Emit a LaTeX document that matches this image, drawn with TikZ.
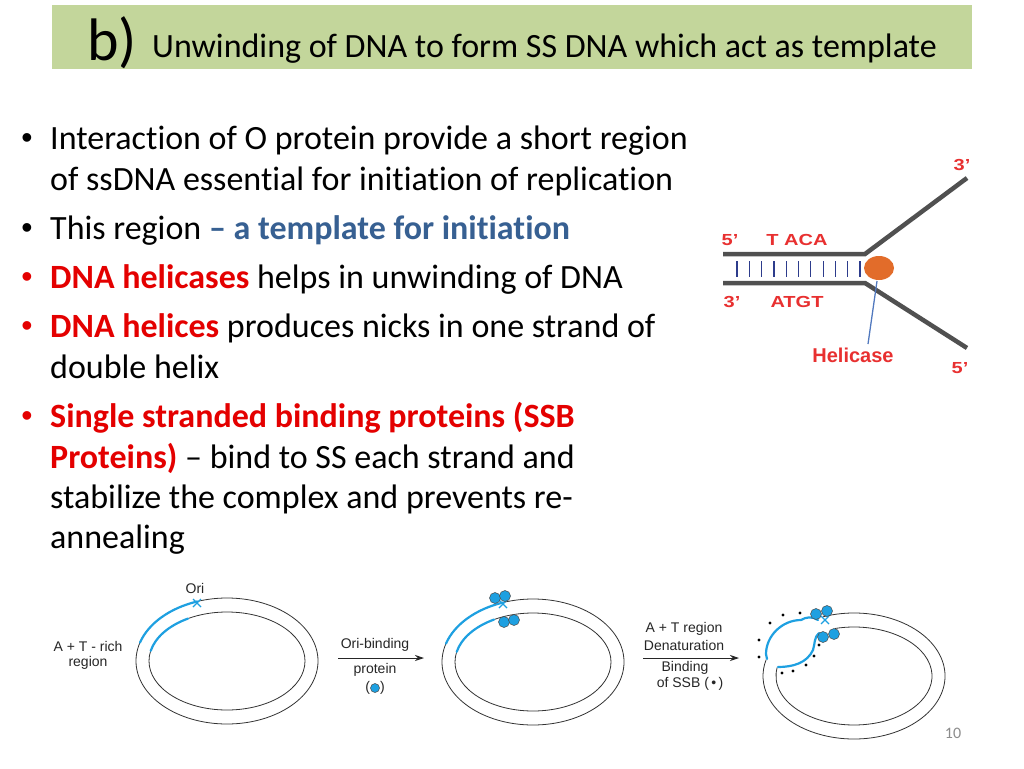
\documentclass[tikz,border=0pt]{standalone}
\usepackage{fontspec}
\setmainfont[Ligatures={NoCommon}]{Carlito}
\newfontfamily\arialf{Liberation Sans}
\usetikzlibrary{arrows.meta,calc,shapes.geometric}
\definecolor{titlegreen}{RGB}{195,214,155}
\definecolor{tblue}{RGB}{55,96,146}
\definecolor{tred}{RGB}{228,0,0}
\definecolor{lred}{RGB}{232,48,48}
\definecolor{strandgray}{RGB}{80,80,80}
\definecolor{rungblue}{RGB}{45,60,140}
\definecolor{helorange}{RGB}{226,108,42}
\definecolor{ptrblue}{RGB}{80,120,190}
\definecolor{dnablue}{RGB}{30,160,225}
\definecolor{pgray}{RGB}{140,140,140}
\newcommand{\wideit}[1]{\scalebox{1.25}[1]{#1}}
\begin{document}
\begin{tikzpicture}[x=1pt,y=-1pt,
 body/.style={anchor=base west,inner sep=0pt,font=\fontsize{34}{40}\selectfont},
 bul/.style={anchor=base,inner sep=0pt,font=\arialf\fontsize{32}{34}\selectfont},
 lab/.style={inner sep=0pt,font=\arialf\bfseries\fontsize{16}{18}\selectfont,text=lred},
 small/.style={inner sep=0pt,font=\arialf\fontsize{14}{16}\selectfont,text=black!85},
 ring/.style={line width=0.8pt,draw=black!80},
 ssdna/.style={line width=2.2pt,draw=dnablue,line cap=round},
 prot/.style={fill=dnablue,draw=black!70,line width=0.5pt},
 ssbdot/.style={fill=black,circle,inner sep=0pt,minimum size=3.2pt},
 strandline/.style={draw=strandgray,line width=4.5pt},
 rungline/.style={draw=rungblue,line width=1.2pt},
 orimark/.style={draw=dnablue,line width=1.2pt},
 fwd/.style={-{Stealth[length=9pt,width=6pt]},line width=0.9pt,draw=black!85}
]
\useasboundingbox (0,0) rectangle (1024,768);
\fill[white] (0,0) rectangle (1024,768);

% ---- title ----
\node (titlebox) [fill=titlegreen,minimum width=920pt,minimum height=64pt,inner sep=0pt] at (512,37) {};
\node (tb) [anchor=base west,inner sep=0pt,font=\fontsize{60}{66}\selectfont] at (87,60) {b)};
\node (tt) [body] at (152,57) {Unwinding of DNA to form SS DNA which act as template};

% ---- bullets ----
\node (b1) [bul] at (27,148) {•};
\node (l1) [body] at (50,149) {Interaction of O protein provide a short region};
\node (l2) [body] at (50,190) {of ssDNA essential for initiation of replication};
\node (b2) [bul] at (27,238) {•};
\node (l3) [body] at (50,239) {This region \textcolor{tblue}{\bfseries – a template for initiation}};
\node (b3) [bul,text=tred] at (27,287) {•};
\node (l4) [body] at (50,288) {\textcolor{tred}{\bfseries DNA helicases} helps in unwinding of DNA};
\node (b4) [bul,text=tred] at (27,336) {•};
\node (l5) [body] at (50,337) {\textcolor{tred}{\bfseries DNA helices} produces nicks in one strand of};
\node (l6) [body] at (50,378) {double helix};
\node (b5) [bul,text=tred] at (27,426) {•};
\node (l7) [body] at (50,427) {\textcolor{tred}{\bfseries Single stranded binding proteins (SSB}};
\node (l8) [body] at (50,468) {\textcolor{tred}{\bfseries Proteins)} – bind to SS each strand and};
\node (l9) [body] at (50,508) {stabilize the complex and prevents re-};
\node (l10) [body] at (50,548) {annealing};

% ---- helicase fork ----
\coordinate (t5) at (723,254);
\coordinate (tf) at (865,254);
\coordinate (t3) at (967,178);
\coordinate (b3e) at (723,283);
\coordinate (bf) at (865,283);
\coordinate (b5e) at (967,348);
\foreach \i in {0,...,10} \draw[rungline] (737+12.3*\i,261) -- ++(0,16);
\draw[strandline] (t5) -- (tf) -- (t3);
\draw[strandline] (b3e) -- (bf) -- (b5e);
\node (helblob) [ellipse,fill=helorange,minimum width=30pt,minimum height=24pt,inner sep=0pt] at (879,268) {};
\node (f5a) [lab] at (730,240) {\wideit{5’}};
\node (taca) [lab] at (797,240) {\wideit{T ACA}};
\node (f3a) [lab] at (732,302) {\wideit{3’}};
\node (atgt) [lab] at (797,302) {\wideit{ATGT}};
\node (hell) [lab,font=\arialf\bfseries\fontsize{20}{22}\selectfont] at (853,355) {Helicase};
\node (f3b) [lab] at (962,165) {\wideit{3’}};
\node (f5b) [lab] at (960,368) {\wideit{5’}};
\coordinate (ptrend) at (868,344);
\draw[ptrblue,line width=1.3pt] (877,281) -- (ptrend);

% ---- ring 1 ----
\coordinate (c1) at (227,661);
\draw[ring] (c1) ellipse [x radius=91,y radius=63];
\draw[ring] (c1) ellipse [x radius=78,y radius=49];
\draw[ssdna] ($(c1)+(-109:91 and 63)$) arc[start angle=-109,end angle=-163,x radius=91,y radius=63];
\draw[ssdna] ($(c1)+(-120:78 and 49)$) arc[start angle=-120,end angle=-168,x radius=78,y radius=49];
\coordinate (x1) at (197,603);
\draw[orimark] ($(x1)+(-4,-4)$) -- ($(x1)+(4,4)$) ($(x1)+(-4,4)$) -- ($(x1)+(4,-4)$);
\node (ori) [small] at (195,588) {Ori};
\node (atr1) [small] at (88,646) {A + T - rich};
\node (atr2) [small] at (88,663) {region};

% ---- arrow 1 ----
\coordinate (a1s) at (338,658);
\coordinate (a1e) at (424,658);
\draw[fwd] (a1s) -- (a1e);
\node (ob) [small] at (375,645) {Ori-binding};
\node (op) [small] at (375,670) {protein};
\node (opc) [small] at (375,688) {(\hspace{10pt})};
\node (opdot) [prot,circle,inner sep=0pt,minimum size=9pt] at (375,688) {};

% ---- ring 2 ----
\coordinate (c2) at (533,662);
\draw[ring] (c2) ellipse [x radius=91,y radius=63];
\draw[ring] (c2) ellipse [x radius=78,y radius=49];
\draw[ssdna] ($(c2)+(-109:91 and 63)$) arc[start angle=-109,end angle=-163,x radius=91,y radius=63];
\draw[ssdna] ($(c2)+(-120:78 and 49)$) arc[start angle=-120,end angle=-168,x radius=78,y radius=49];
\coordinate (x2) at (503,604);
\draw[orimark] ($(x2)+(-4,-4)$) -- ($(x2)+(4,4)$) ($(x2)+(-4,4)$) -- ($(x2)+(4,-4)$);
\node (p2a) [prot,circle,inner sep=0pt,minimum size=11pt] at (495,598) {};
\node (p2b) [prot,circle,inner sep=0pt,minimum size=11pt] at (505,596) {};
\node (p2c) [prot,circle,inner sep=0pt,minimum size=11pt] at (504,622) {};
\node (p2d) [prot,circle,inner sep=0pt,minimum size=11pt] at (514,620) {};

% ---- arrow 2 ----
\coordinate (a2s) at (643,658);
\coordinate (a2e) at (739,658);
\draw[fwd] (a2s) -- (a2e);
\node (ar1) [small] at (684,629) {A + T region};
\node (ar2) [small] at (684,645) {Denaturation};
\node (ar3) [small] at (685,668) {Binding};
\node (ar4) [small] at (690,684) {of SSB (\,•\,)};

% ---- ring 3 ----
\coordinate (c3) at (854,676);
\draw[ring] ($(c3)+(-110:91 and 63)$) arc[start angle=-110,end angle=195,x radius=91,y radius=63];
\draw[ring] ($(c3)+(-104:78 and 49)$) arc[start angle=-104,end angle=190,x radius=78,y radius=49];
\draw[ssdna] (818,620) .. controls (812,616) and (806,617) .. (801,620) .. controls (782,620) and (766,636) .. (766,654) -- (767,659);
\draw[ssdna] (819,633) .. controls (814,637) and (815,644) .. (813,650) .. controls (807,663) and (793,667) .. (778,667);
\coordinate (x3) at (825,620);
\draw[orimark] ($(x3)+(-4,-4)$) -- ($(x3)+(4,4)$) ($(x3)+(-4,4)$) -- ($(x3)+(4,-4)$);
\node (p3a) [prot,circle,inner sep=0pt,minimum size=11pt] at (816,614) {};
\node (p3b) [prot,circle,inner sep=0pt,minimum size=11pt] at (827,611) {};
\node (p3c) [prot,circle,inner sep=0pt,minimum size=11pt] at (823,637) {};
\node (p3d) [prot,circle,inner sep=0pt,minimum size=11pt] at (834,634) {};
\foreach \p [count=\k] in {(783,615),(800,613),(770,623),(759,640),(759,657),(819,645),(814,656),(806,665),(793,671),(782,673)}
  \node (s\k) [ssbdot] at \p {};

% ---- page number ----
\node (pg) [inner sep=0pt,text=pgray,font=\fontsize{16}{18}\selectfont] at (953,733) {10};
\end{tikzpicture}
\end{document}
